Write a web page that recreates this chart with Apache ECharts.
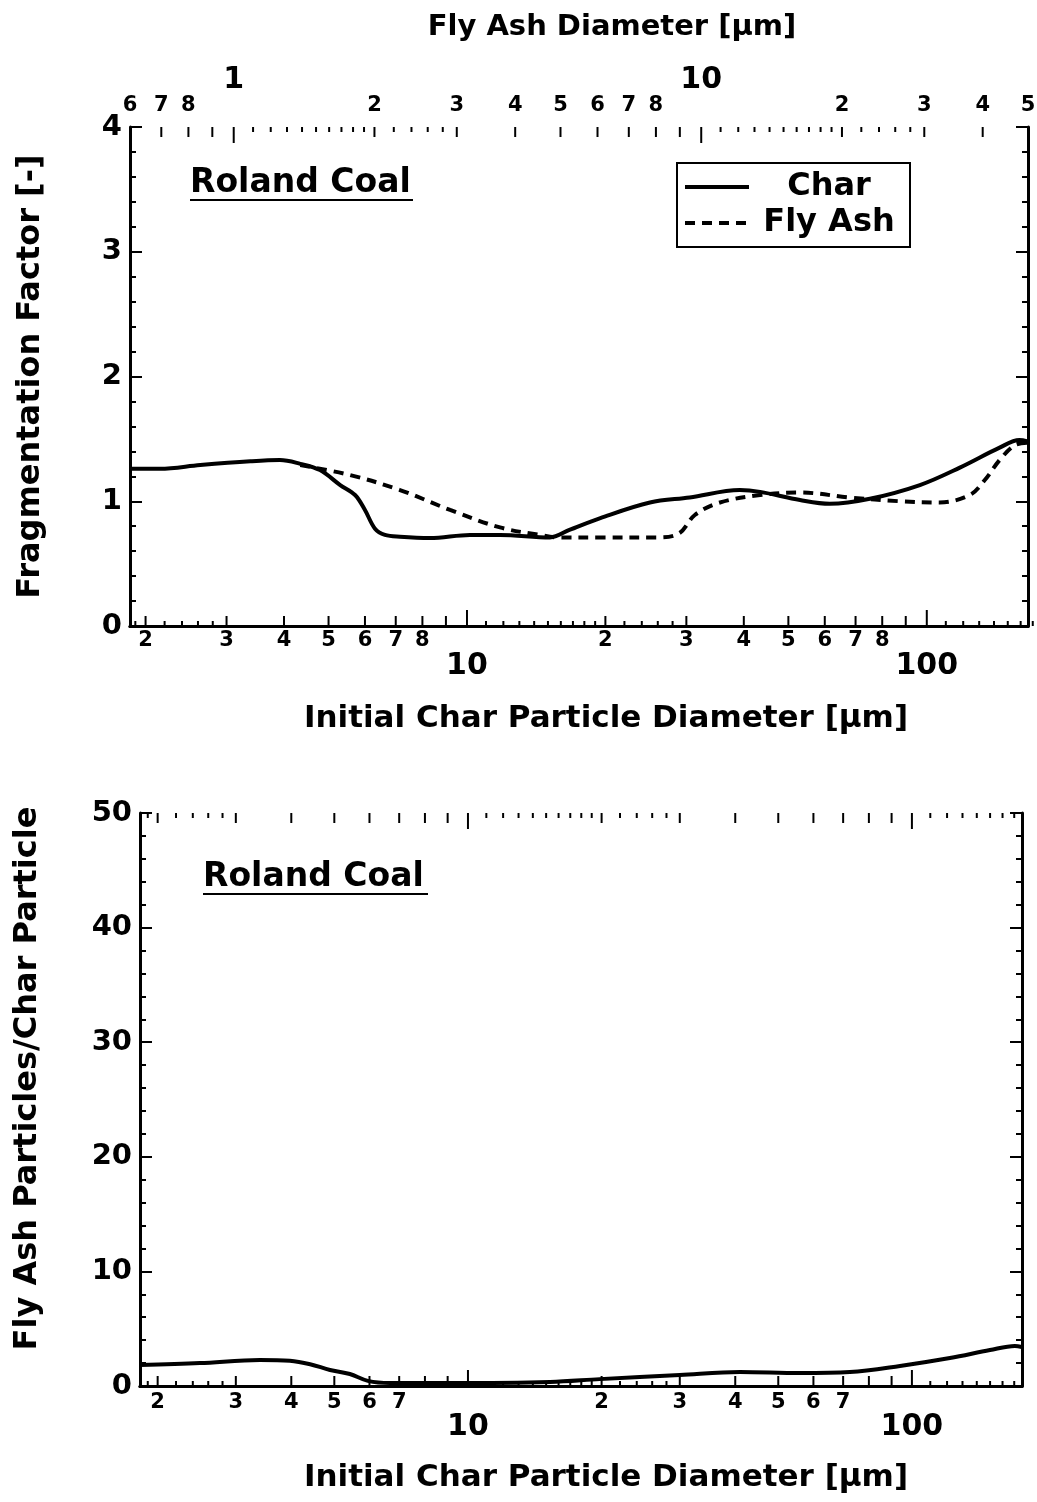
<!DOCTYPE html>
<html>
<head>
<meta charset="utf-8">
<script src="https://cdn.jsdelivr.net/npm/echarts@6/dist/echarts.min.js"></script>
<style>
  html, body { margin: 0; padding: 0; background: #fff; }
  #chart { width: 1037px; height: 1502px; }
</style>
</head>
<body>
<div id="chart"></div>
<script>
'use strict';

// ---- data ----
// top panel: fragmentation factor vs initial char particle diameter (um)
const charD = [1.85, 2.15, 2.63, 3.38, 3.92, 4.34, 4.79, 5.30, 5.71, 6.00, 6.31, 6.63, 7.15, 8.31, 10.15, 11.8, 15.15, 16.7, 19.5, 25.0, 30.5, 39.2, 43.4, 53.0, 61.5, 75.2, 96.6, 118, 144, 159, 165.8];
const charF = [1.26, 1.26, 1.29, 1.32, 1.33, 1.30, 1.25, 1.13, 1.05, 0.93, 0.78, 0.73, 0.715, 0.705, 0.73, 0.73, 0.71, 0.77, 0.865, 0.99, 1.03, 1.09, 1.075, 1.01, 0.98, 1.02, 1.13, 1.27, 1.43, 1.49, 1.48];
const ashD = [4.34, 5.57, 7.15, 9.19, 11.8, 14.4, 15.9, 19.5, 26.3, 29.0, 31.3, 35.5, 43.4, 53.0, 68.0, 87.4, 106.7, 124, 133.7, 144, 155.4, 165.8];
const ashF = [1.29, 1.21, 1.09, 0.93, 0.79, 0.73, 0.71, 0.71, 0.71, 0.745, 0.89, 0.99, 1.05, 1.07, 1.03, 1.00, 0.99, 1.05, 1.17, 1.33, 1.45, 1.47];

// bottom panel: fly ash particles per char particle
const numD = [1.825, 2.49, 3.40, 3.97, 4.41, 4.89, 5.42, 5.95, 6.67, 9.11, 15.3, 19.8, 30.0, 41.0, 55.9, 72.5, 94.0, 121.8, 149.9, 170.6, 176.9];
const numN = [1.83, 2.0, 2.27, 2.2, 1.9, 1.4, 1.05, 0.45, 0.26, 0.26, 0.35, 0.6, 0.96, 1.22, 1.13, 1.22, 1.75, 2.44, 3.14, 3.5, 3.4];

// log axis ticks (0 = decade, 1 = numbered, 2 = minor)
const charMajor = [10, 100];
const charNum = [2, 3, 4, 5, 6, 7, 8, 9, 20, 30, 40, 50, 60, 70, 80, 90];
const charMinor = [1.9, 2.2, 2.4, 2.6, 2.8, 11, 12, 13, 14, 15, 16, 17, 18, 19, 22, 24, 26, 28, 110, 120, 130, 140, 150, 160, 170];
const ashMajor = [1, 10];
const ashNum = [0.7, 0.8, 0.9, 2, 3, 4, 5, 6, 7, 8, 9, 20, 30, 40];
const ashMinor = [1.1, 1.2, 1.3, 1.4, 1.5, 1.6, 1.7, 1.8, 1.9, 2.2, 2.4, 2.6, 2.8, 11, 12, 13, 14, 15, 16, 17, 18, 19, 22, 24, 26, 28];

// tick labels
const topBottomSmall = [2, 3, 4, 5, 6, 7, 8, 20, 30, 40, 50, 60, 70, 80];
const topBottomBig = [10, 100];
const topTopSmall = [0.6, 0.7, 0.8, 2, 3, 4, 5, 6, 7, 8, 20, 30, 40, 50];
const topTopBig = [1, 10];
const lowSmall = [2, 3, 4, 5, 6, 7, 20, 30, 40, 50, 60, 70];
const lowBig = [10, 100];

const FONT = '"DejaVu Sans", "Liberation Sans", sans-serif';
const tickLen = [16, 10, 5];

function zip(a, b) {
    return a.map(function (v, i) { return [v, b[i]]; });
}

function tickData(major, num, minor) {
    return major.map(v => [v, 0]).concat(num.map(v => [v, 1]), minor.map(v => [v, 2]));
}

function labelData(small, big) {
    return small.map(v => [v, 0]).concat(big.map(v => [v, 1]));
}

function lead(v) {
    let p = Math.pow(10, Math.floor(Math.log10(v) + 1e-9));
    return String(Math.round(v / p));
}

// tick marks drawn on the grid edges, positioned through the axis
function tickRender(sides) {
    return function (params, api) {
        let cs = params.coordSys;
        let x = api.coord([api.value(0), 0])[0];
        let len = tickLen[api.value(1)];
        let children = sides.map(function (s) {
            let y0 = s === 'bottom' ? cs.y + cs.height : cs.y;
            let dir = s === 'bottom' ? -1 : 1;
            return {
                type: 'line',
                shape: {x1: x, y1: y0, x2: x, y2: y0 + dir * len},
                style: {stroke: '#000', lineWidth: 2}
            };
        });
        return {type: 'group', children: children};
    };
}

function labelRender(side, offSmall, offBig) {
    return function (params, api) {
        let cs = params.coordSys;
        let v = api.value(0);
        let big = api.value(1) === 1;
        let x = api.coord([v, 0])[0];
        let base = side === 'bottom' ? cs.y + cs.height : cs.y;
        return {
            type: 'text',
            x: x,
            y: base + (big ? offBig : offSmall),
            style: {
                text: big ? String(v) : lead(v),
                font: 'bold ' + (big ? 30 : 21) + 'px ' + FONT,
                fill: '#000',
                align: 'center',
                verticalAlign: 'middle'
            }
        };
    };
}

function logAxis(grid, pos, min, max, name, gap, shift) {
    return {
        type: 'log', logBase: 10, gridIndex: grid, position: pos,
        min: min, max: max,
        name: name || '', nameLocation: 'middle', nameGap: gap || 0,
        nameTextStyle: {
            fontFamily: FONT, fontWeight: 'bold', fontSize: pos === 'top' ? 29 : 31, color: '#000',
            padding: [0, 0, 0, shift || 0]
        },
        axisLine: {show: true, lineStyle: {color: '#000', width: 3}},
        axisTick: {show: false},
        axisLabel: {show: false},
        splitLine: {show: false},
        minorTick: {show: false}
    };
}

function valAxis(grid, pos, max, interval, showLabel, name, gap, shift) {
    return {
        type: 'value', gridIndex: grid, position: pos,
        min: 0, max: max, interval: interval,
        name: name || '', nameLocation: 'middle', nameGap: gap || 0,
        nameTextStyle: {
            fontFamily: FONT, fontWeight: 'bold', fontSize: 32, color: '#000',
            padding: [0, 0, 0, shift || 0]
        },
        axisLine: {show: true, lineStyle: {color: '#000', width: 3}},
        axisTick: {show: true, inside: true, length: 12, lineStyle: {color: '#000', width: 2}},
        minorTick: {show: true, splitNumber: 5, length: 6, lineStyle: {color: '#000', width: 2}},
        axisLabel: {show: showLabel, margin: 8, fontFamily: FONT, fontWeight: 'bold', fontSize: 29, color: '#000'},
        splitLine: {show: false}
    };
}

let myChart = echarts.init(document.getElementById('chart'));

myChart.setOption({
    backgroundColor: '#fff',
    animation: false,
    grid: [
        {left: 130, top: 127, width: 898, height: 499},
        {left: 140, top: 813, width: 882, height: 573}
    ],
    xAxis: [
        logAxis(0, 'bottom', 1.85, 166, 'Initial Char Particle Diameter [\u03bcm]', 77, 54),
        logAxis(0, 'top', 0.6, 50, 'Fly Ash Diameter [\u03bcm]', 85, 66),
        logAxis(1, 'bottom', 1.825, 177, 'Initial Char Particle Diameter [\u03bcm]', 76, 50),
        logAxis(1, 'top', 1.825, 177)
    ],
    yAxis: [
        valAxis(0, 'left', 4, 1, true, 'Fragmentation Factor [-]', 83),
        valAxis(0, 'right', 4, 1, false),
        valAxis(1, 'left', 50, 10, true, 'Fly Ash Particles/Char Particle', 96, 42),
        valAxis(1, 'right', 50, 10, false)
    ],
    legend: {
        data: ['Char', 'Fly Ash'],
        left: 677, top: 163,
        orient: 'vertical',
        selectedMode: false,
        itemWidth: 64, itemHeight: 14, itemGap: 4,
        padding: [8, 6, 8, 6],
        borderColor: '#000', borderWidth: 2, borderRadius: 0,
        itemStyle: {color: 'transparent', borderColor: 'transparent', borderWidth: 0},
        lineStyle: {width: 4, color: '#000'},
        formatter: function (n) { return '{t|' + n + '}'; },
        textStyle: {
            rich: {
                t: {width: 150, align: 'center', fontSize: 32, fontWeight: 'bold', fontFamily: FONT, color: '#000', lineHeight: 38}
            }
        }
    },
    graphic: [
        {type: 'text', left: 190, top: 167, style: {text: 'Roland Coal', font: 'bold 33px ' + FONT, fill: '#000'}},
        {type: 'line', shape: {x1: 190, y1: 200, x2: 413, y2: 200}, style: {stroke: '#000', lineWidth: 2}},
        {type: 'text', left: 203, top: 861, style: {text: 'Roland Coal', font: 'bold 33px ' + FONT, fill: '#000'}},
        {type: 'line', shape: {x1: 203, y1: 894, x2: 428, y2: 894}, style: {stroke: '#000', lineWidth: 2}}
    ],
    series: [
        {
            name: 'Char', type: 'line', xAxisIndex: 0, yAxisIndex: 0,
            data: zip(charD, charF), symbol: 'none', smooth: 0.35, silent: true,
            lineStyle: {color: '#000', width: 4}, itemStyle: {color: '#000'}
        },
        {
            name: 'Fly Ash', type: 'line', xAxisIndex: 0, yAxisIndex: 0,
            data: zip(ashD, ashF), symbol: 'none', smooth: 0.35, silent: true,
            lineStyle: {color: '#000', width: 4, type: [10, 7]}, itemStyle: {color: '#000'}
        },
        {
            type: 'line', xAxisIndex: 2, yAxisIndex: 2,
            data: zip(numD, numN), symbol: 'none', smooth: 0.35, silent: true,
            lineStyle: {color: '#000', width: 4}
        },
        // ticks
        {type: 'custom', xAxisIndex: 0, yAxisIndex: 0, silent: true, renderItem: tickRender(['bottom']), data: tickData(charMajor, charNum, charMinor)},
        {type: 'custom', xAxisIndex: 1, yAxisIndex: 0, silent: true, renderItem: tickRender(['top']), data: tickData(ashMajor, ashNum, ashMinor)},
        {type: 'custom', xAxisIndex: 2, yAxisIndex: 2, silent: true, renderItem: tickRender(['bottom', 'top']), data: tickData(charMajor, charNum, charMinor)},
        // tick labels
        {type: 'custom', xAxisIndex: 0, yAxisIndex: 0, silent: true, renderItem: labelRender('bottom', 15, 40), data: labelData(topBottomSmall, topBottomBig)},
        {type: 'custom', xAxisIndex: 1, yAxisIndex: 0, silent: true, renderItem: labelRender('top', -21, -47), data: labelData(topTopSmall, topTopBig)},
        {type: 'custom', xAxisIndex: 2, yAxisIndex: 2, silent: true, renderItem: labelRender('bottom', 17, 41), data: labelData(lowSmall, lowBig)}
    ]
});
</script>
</body>
</html>
